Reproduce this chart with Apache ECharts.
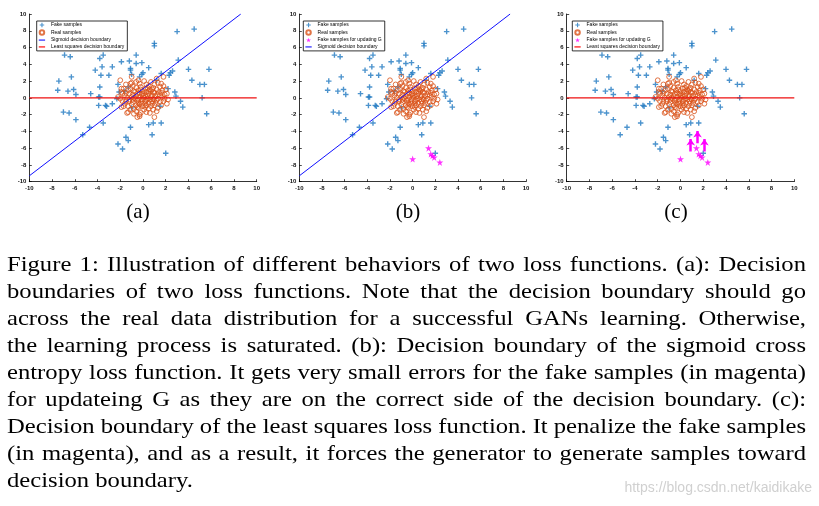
<!DOCTYPE html>
<html><head><meta charset="utf-8">
<script src="https://cdn.jsdelivr.net/npm/echarts@6/dist/echarts.min.js"></script>
<style>html,body{margin:0;padding:0;background:#fff}#c{width:819px;height:506px}</style>
</head><body><div id="c"></div>
<script>
// ---------------- data ----------------
const fakeSamples = [
 [3.0,7.9],[4.5,8.2],[1.0,6.5],[1.0,6.2],[-6.9,5.1],[-6.4,4.9],[-3.5,5.1],[-3.8,4.7],[-0.6,5.1],
 [-1.9,4.3],[-1.2,4.4],[-0.6,4.1],[-0.1,4.2],[0.5,3.6],[-3.6,3.7],[-2.7,3.7],[-1.1,3.5],[-1.1,3.3],
 [-4.2,3.3],[-3.7,2.7],[-3.0,2.7],[-1.0,2.8],[-0.1,2.8],[0.0,3.0],[-0.3,2.5],[3.1,4.5],[4.0,3.4],
 [5.8,3.4],[2.4,3.0],[2.6,3.2],[1.6,2.9],[2.3,2.7],[4.3,2.1],[5.0,1.6],[5.4,1.6],[5.2,0.0],[5.6,-1.9],
 [3.3,-0.4],[3.5,-1.1],[2.8,0.7],[2.9,0.2],[2.2,1.1],[1.2,2.1],[-7.4,2.0],[-6.3,2.5],[-7.5,0.9],
 [-6.6,0.8],[-6.1,1.0],[-5.9,0.4],[-4.6,0.5],[-3.8,1.3],[-3.9,0.1],[-3.8,0.1],[-3.9,-0.9],[-3.3,-0.9],
 [-3.2,-1.0],[-2.7,-0.7],[-2.3,-0.1],[-7.0,-1.7],[-6.5,-1.8],[-5.9,-2.6],[-4.7,-3.5],[-3.5,-3.0],
 [-5.3,-4.4],[-1.1,-3.5],[-1.5,-4.7],[-1.3,-5.1],[-2.2,-5.5],[-1.8,-6.1],[0.8,-4.4],[2.0,-6.6],
 [0.5,-3.2],[0.9,-3.0],[1.6,-3.0],[1.5,-1.0],[-2.2,1.6],[-2.1,0.7],[-1.3,1.3],[-1.0,-1.2],[-1.6,0.8]
];
const realSamples = [
 [-2.0,2.1],[-0.4,2.1],[-1.0,2.5],[1.8,2.5],[1.2,2.3],[0.7,1.9],[-1.9,1.1],[-1.7,1.1],[-2.2,0.1],
 [-2.0,-0.1],[-1.9,-1.1],[-1.7,-1.0],[-1.3,-1.7],[-1.4,-1.8],[-0.3,-2.0],[-0.3,-2.2],[1.0,-2.3],
 [2.1,-0.7],[1.9,-0.1],[2.1,0.5],[1.7,0.9],[-1.1,1.7],[-1.0,1.8],[-0.5,-2.3],[-0.2,-1.8],[2.0,1.0],
 [1.5,1.3],[-1.5,-0.4],[-1.6,0.3],[1.3,-1.2],
 [-0.9,1.4],[-0.6,1.2],[-0.2,1.3],[0.2,1.1],[0.5,1.4],[0.9,1.2],[1.2,1.0],[-1.3,0.9],[-0.8,0.8],
 [-0.4,0.9],[0.0,0.8],[0.3,0.7],[0.7,0.8],[1.0,0.6],[1.4,0.7],[-1.2,0.5],[-0.9,0.4],[-0.5,0.5],
 [-0.1,0.4],[0.2,0.3],[0.5,0.5],[0.8,0.3],[1.1,0.2],[1.5,0.3],[-1.4,0.0],[-1.0,0.1],[-0.7,-0.1],
 [-0.3,0.1],[0.1,0.0],[0.4,-0.1],[0.7,0.1],[1.0,-0.2],[1.3,-0.1],[1.7,0.1],[-1.2,-0.4],[-0.9,-0.5],
 [-0.5,-0.3],[-0.2,-0.5],[0.2,-0.4],[0.5,-0.6],[0.8,-0.4],[1.1,-0.6],[1.5,-0.5],[-1.0,-0.8],
 [-0.6,-0.9],[-0.3,-0.8],[0.0,-1.0],[0.3,-0.9],[0.7,-1.0],[1.0,-0.9],[-0.8,-1.3],[-0.4,-1.2],
 [0.1,-1.4],[0.5,-1.3],[0.9,-1.4],[-1.1,-1.4],[-0.6,-1.6],[0.3,-1.7],[-0.1,-0.2],[0.6,1.0],
 [-0.3,0.6],[0.9,0.7],[-0.6,0.2],[0.3,1.6],[-0.3,1.7],[1.0,1.6],[1.6,1.7],[-0.7,0.7],[0.0,0.5],
 [1.3,0.4],[-1.8,0.5],[-1.5,0.6],[1.9,0.4],[1.8,-0.4],[-0.9,-0.2],[0.4,0.2],[0.6,-0.2],[-0.4,-0.6],
 [0.2,-0.7],[-1.6,-0.7],
 [-1.8,-0.4],[-1.3,-1.0],[-0.8,-1.9],[0.6,-1.8],[1.2,-1.6],[1.6,-0.9],[2.2,-0.2],[1.8,1.4],[1.3,1.8],
 [0.1,2.0],[-0.6,1.9],[-1.5,1.6],[-1.9,0.7],[-0.2,1.0],[0.4,1.2],[0.8,1.0],[-1.1,1.1],[-0.5,-1.1],
 [0.2,-1.1],[0.8,-0.7],[1.2,-0.3],[-0.8,0.0],[0.0,0.2],[0.3,-0.3],[-0.4,-0.2],[1.6,0.6],[-1.2,-0.2],
 [0.5,0.8],[-0.1,-0.7],[0.9,-0.1]
];
const updatingSamples = [[0.0,-7.3],[1.4,-6.0],[1.6,-6.7],[1.75,-6.9],[1.9,-7.1],[2.4,-7.7]];
const sigmoidBoundary = [[-10,-9.3],[8.6,10]];
const leastSquaresBoundary = [[-10,0],[10,0]];
const updateArrows = [[[0.9,-6.4],[0.9,-4.9]],[[1.5,-5.4],[1.5,-3.95]],[[2.1,-6.4],[2.1,-4.9]]];
const axisMin = -10, axisMax = 10, axisStep = 2;
const panelLabels = ['(a)','(b)','(c)'];
const legendNames = {
  fake: 'Fake samples', real: 'Real samples', upd: 'Fake samples for updating G',
  sig: 'Sigmoid decision boundary', ls: 'Least squares decision boundary'
};
const captionLines = [
 'Figure 1: Illustration of different behaviors of two loss functions. (a): Decision',
 'boundaries of two loss functions. Note that the decision boundary should go',
 'across the real data distribution for a successful GANs learning. Otherwise,',
 'the learning process is saturated. (b): Decision boundary of the sigmoid cross',
 'entropy loss function. It gets very small errors for the fake samples (in magenta)',
 'for updateing G as they are on the correct side of the decision boundary. (c):',
 'Decision boundary of the least squares loss function. It penalize the fake samples',
 '(in magenta), and as a result, it forces the generator to generate samples toward',
 'decision boundary.'
];
const watermarkText = 'https://blog.csdn.net/kaidikake';

// ---------------- layout / style ----------------
const PLUS = 'path://M3.75,0h2.5v3.75h3.75v2.5h-3.75v3.75h-2.5v-3.75h-3.75v-2.5h3.75z';
const STAR = 'path://M50,0L61.8,35.4L99,35.4L69,57.3L80.3,92.7L50,70.8L19.7,92.7L31,57.3L1,35.4L38.2,35.4Z';
const LEG_LINE = 'path://M0,0L0.01,0M0,3h14v4h-14zM0,10L0.01,10';
const BLUE = '#1f78c1', ORANGE = '#d95319', MAG = '#ff00ff';
const panels = [
  {left: 29.3, width: 227.4, legendLeft: 36.7, items: ['fake','real','sig','ls'], label: 138},
  {left: 299.3, width: 226.7, legendLeft: 303.3, items: ['fake','real','upd','sig'], label: 408},
  {left: 566.7, width: 227.6, legendLeft: 572.3, items: ['fake','real','upd','ls'], label: 676}
];
const TOP = 14, HEIGHT = 167.7;

const grid = [], xAxis = [], yAxis = [], series = [], legend = [], graphic = [];
const axisCommon = {
  type: 'value', min: axisMin, max: axisMax, interval: axisStep,
  splitLine: {show: false},
  axisLine: {show: true, onZero: false, lineStyle: {color: '#000', width: 0.8}},
  axisTick: {show: true, inside: true, length: 2.5, lineStyle: {color: '#000', width: 0.7}},
  axisLabel: {fontSize: 6, color: '#111', fontFamily: 'Liberation Sans', fontWeight: 'bold'}
};
const legendItem = {
  fake: {icon: PLUS},
  real: {icon: 'circle'},
  upd: {icon: STAR},
  sig: {icon: LEG_LINE, itemStyle: {color: '#6a6aff'}},
  ls: {icon: LEG_LINE, itemStyle: {color: '#ff5a5a'}}
};
panels.forEach((p, i) => {
  grid.push({left: p.left, top: TOP, width: p.width, height: HEIGHT});
  xAxis.push(Object.assign({gridIndex: i}, axisCommon, {axisLabel: Object.assign({}, axisCommon.axisLabel, {margin: 3.5})}));
  yAxis.push(Object.assign({gridIndex: i}, axisCommon, {axisLabel: Object.assign({}, axisCommon.axisLabel, {margin: 3})}));
  series.push({type: 'scatter', name: legendNames.fake, xAxisIndex: i, yAxisIndex: i, data: fakeSamples,
    symbol: PLUS, symbolSize: 5.5, itemStyle: {color: BLUE}, z: 2, silent: true});
  series.push({type: 'scatter', name: legendNames.real, xAxisIndex: i, yAxisIndex: i, data: realSamples,
    symbol: 'circle', symbolSize: 4.8, itemStyle: {color: 'rgba(255,255,255,0)', borderColor: ORANGE, borderWidth: 1}, z: 3, silent: true});
  if (p.items.includes('upd')) {
    series.push({type: 'scatter', name: legendNames.upd, xAxisIndex: i, yAxisIndex: i, data: updatingSamples,
      symbol: STAR, symbolSize: 7, itemStyle: {color: MAG}, z: 4, silent: true});
  }
  if (p.items.includes('sig')) {
    series.push({type: 'line', name: legendNames.sig, xAxisIndex: i, yAxisIndex: i, data: sigmoidBoundary,
      symbol: 'none', lineStyle: {color: '#1010ff', width: 1}, itemStyle: {color: '#1010ff'}, z: 5, silent: true});
  }
  if (p.items.includes('ls')) {
    series.push({type: 'line', name: legendNames.ls, xAxisIndex: i, yAxisIndex: i, data: leastSquaresBoundary,
      symbol: 'none', lineStyle: {color: '#ee1111', width: 1.3}, itemStyle: {color: '#ee1111'}, z: 5, silent: true});
  }
  if (i === 2) {
    series.push({type: 'lines', coordinateSystem: 'cartesian2d', xAxisIndex: i, yAxisIndex: i,
      data: updateArrows.map(c => ({coords: c})), symbol: ['none', 'arrow'], symbolSize: 6.5,
      lineStyle: {color: MAG, width: 2.5, opacity: 1}, z: 6, silent: true});
  }
  legend.push({
    left: p.legendLeft, top: 21, orient: 'vertical', backgroundColor: '#fff',
    borderColor: '#000', borderWidth: 0.8, borderRadius: 0, padding: [1.5, 3, 1.5, 2],
    itemWidth: 12, itemHeight: 4.5, itemGap: 1.8, selectedMode: false,
    textStyle: {fontSize: 5, color: '#000', fontFamily: 'Liberation Sans', padding: [0, 0, 0, -2]},
    data: p.items.map(k => Object.assign({name: legendNames[k]}, legendItem[k]))
  });
  graphic.push({type: 'text', x: p.label, y: 212, silent: true,
    style: {text: panelLabels[i], font: '21px "Liberation Serif"', fill: '#000', align: 'center', verticalAlign: 'middle'}});
});

// caption, justified (Liberation Serif stretched horizontally to approximate Computer Modern widths)
const FONT = '22px "Liberation Serif"';
const SX = 1.12;
const ctx = document.createElement('canvas').getContext('2d');
ctx.font = FONT;
const X0 = 7, X1 = 806, Y0 = 265.5, DY = 27;
captionLines.forEach((line, li) => {
  const words = line.split(' ');
  const widths = words.map(w => ctx.measureText(w).width * SX);
  const sum = widths.reduce((a, b) => a + b, 0);
  const last = li === captionLines.length - 1;
  const gap = last ? ctx.measureText(' ').width * SX : (X1 - X0 - sum) / (words.length - 1);
  let x = X0;
  words.forEach((w, wi) => {
    graphic.push({type: 'text', x: x, y: Y0 + li * DY, scaleX: SX, silent: true,
      style: {text: w, font: FONT, fill: '#000', align: 'left', verticalAlign: 'middle'}});
    x += widths[wi] + gap;
  });
});
graphic.push({type: 'text', x: 812, y: 488, silent: true,
  style: {text: watermarkText, font: '14px "Liberation Sans"', fill: '#d0d0d0', align: 'right', verticalAlign: 'middle'}});

const chart = echarts.init(document.getElementById('c'), null, {renderer: 'canvas'});
chart.setOption({animation: false, backgroundColor: '#fff', grid, xAxis, yAxis, series, legend, graphic});
</script></body></html>
